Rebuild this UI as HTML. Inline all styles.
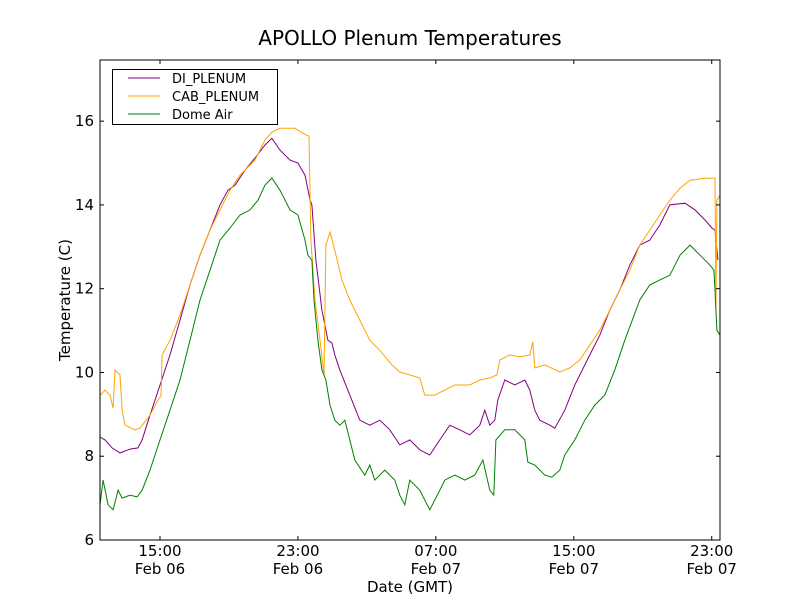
<!DOCTYPE html>
<html><head><meta charset="utf-8"><style>
body{margin:0;background:#fff}
svg{display:block;font-family:"DejaVu Sans","Liberation Sans",sans-serif}
</style></head><body>
<svg id="chart" width="800" height="600" viewBox="0 0 800 600">
<rect x="0" y="0" width="800" height="600" fill="#fff"/>
<text x="410" y="45" font-size="20" text-anchor="middle">APOLLO Plenum Temperatures</text>
<g id="series"></g>
<rect x="100" y="60" width="620" height="480" fill="none" stroke="#000" stroke-width="1"/>
<g id="axes"></g>
<text x="410" y="592" font-size="15" text-anchor="middle">Date (GMT)</text>
<text x="0" y="0" font-size="15" text-anchor="middle" transform="translate(70,300) rotate(-90)">Temperature (C)</text>
<g>
<rect x="112.5" y="69.5" width="165" height="55" fill="#fff" stroke="#000" stroke-width="1"/>
<line x1="128" y1="78" x2="160" y2="78" stroke="purple"/>
<text x="172" y="83" font-size="13">DI_PLENUM</text>
<line x1="128" y1="96" x2="160" y2="96" stroke="orange"/>
<text x="172" y="101" font-size="13">CAB_PLENUM</text>
<line x1="128" y1="114" x2="160" y2="114" stroke="green"/>
<text x="172" y="119" font-size="13">Dome Air</text>
</g>
</svg>
<script>
// time in hours since 00:00 Feb 06 (GMT)
const diTimes = [11.52,11.81,12.22,12.68,13.26,13.72,13.96,14.42,15.00,15.58,16.16,16.74,17.32,17.90,18.48,18.94,19.35,19.93,20.51,21.09,21.49,21.96,22.54,23.00,23.41,23.70,23.81,24.04,24.39,24.74,24.97,25.14,25.43,26.01,26.59,27.17,27.75,28.33,28.91,29.49,30.07,30.65,31.23,31.81,32.39,32.97,33.55,33.84,34.13,34.42,34.59,35.00,35.58,36.16,36.45,36.74,37.03,37.61,37.90,38.48,39.06,39.93,40.51,41.09,41.67,42.25,42.83,43.41,43.99,44.57,45.45,46.03,46.61,47.01,47.19,47.36];
const diValues = [8.46,8.39,8.20,8.08,8.17,8.20,8.39,8.98,9.70,10.42,11.25,12.09,12.80,13.40,14.00,14.35,14.47,14.83,15.12,15.43,15.59,15.31,15.07,15.00,14.71,14.12,14.00,12.68,11.49,10.77,10.70,10.42,10.06,9.46,8.86,8.74,8.86,8.63,8.27,8.39,8.15,8.03,8.39,8.74,8.63,8.51,8.74,9.10,8.74,8.86,9.34,9.82,9.70,9.82,9.58,9.10,8.86,8.74,8.67,9.10,9.70,10.42,10.89,11.49,11.97,12.56,13.04,13.16,13.52,14.00,14.04,13.88,13.64,13.45,13.40,12.68];
const cabTimes = [11.52,11.81,12.10,12.28,12.39,12.68,12.80,12.97,13.55,13.84,14.42,14.88,15.06,15.12,15.58,16.16,16.74,17.32,17.90,18.48,19.06,19.64,20.51,21.09,21.49,21.96,22.83,23.29,23.64,23.75,23.99,24.28,24.51,24.62,24.86,25.14,25.55,26.01,26.59,27.17,27.75,28.45,28.91,30.07,30.36,30.94,31.52,32.10,32.97,33.55,34.13,34.54,34.71,35.29,35.87,36.45,36.62,36.74,37.32,38.19,38.77,39.35,39.93,40.51,41.09,41.67,42.25,42.83,43.41,43.99,44.57,45.16,45.74,46.61,47.19,47.24,47.30,47.48];
const cabValues = [9.45,9.58,9.46,9.15,10.06,9.94,9.10,8.74,8.63,8.67,8.98,9.34,9.44,10.42,10.77,11.37,12.09,12.80,13.40,13.88,14.35,14.71,15.07,15.55,15.74,15.83,15.83,15.71,15.64,13.16,11.73,10.77,9.94,13.04,13.35,12.92,12.21,11.73,11.25,10.77,10.53,10.18,10.01,9.87,9.46,9.46,9.58,9.70,9.70,9.82,9.87,9.94,10.30,10.42,10.37,10.42,10.73,10.11,10.18,10.01,10.11,10.30,10.65,11.01,11.49,11.97,12.44,13.04,13.40,13.76,14.11,14.40,14.59,14.64,14.64,11.49,14.11,14.23];
const domeTimes = [11.52,11.70,11.99,12.28,12.57,12.80,13.26,13.67,13.96,14.42,15.00,15.58,16.16,16.74,17.32,17.90,18.48,19.06,19.64,20.22,20.68,21.09,21.49,21.96,22.54,23.00,23.41,23.58,23.81,23.93,24.16,24.39,24.62,24.86,25.14,25.43,25.72,26.01,26.30,26.88,27.17,27.46,28.04,28.62,28.91,29.20,29.49,30.07,30.36,30.65,31.23,31.52,32.10,32.68,33.26,33.73,34.13,34.36,34.48,35.00,35.58,36.16,36.33,36.74,37.32,37.72,38.19,38.48,39.06,39.64,40.22,40.80,41.38,41.96,42.83,43.41,43.99,44.57,45.16,45.74,46.32,46.90,47.13,47.30,47.48];
const domeValues = [6.84,7.43,6.84,6.72,7.19,7.00,7.07,7.03,7.19,7.67,8.39,9.10,9.82,10.77,11.73,12.44,13.16,13.45,13.76,13.88,14.11,14.47,14.64,14.35,13.88,13.76,13.16,12.80,12.68,11.73,10.77,10.06,9.82,9.22,8.86,8.74,8.86,8.39,7.91,7.55,7.79,7.43,7.67,7.43,7.07,6.84,7.43,7.19,6.95,6.72,7.19,7.43,7.55,7.43,7.55,7.91,7.19,7.07,8.39,8.63,8.63,8.39,7.86,7.79,7.55,7.50,7.67,8.03,8.39,8.86,9.22,9.46,10.06,10.77,11.73,12.09,12.21,12.32,12.80,13.04,12.80,12.56,12.44,11.01,10.89];
const xTickHours = [15,23,31,39,47];
const xTickTimes = ["15:00","23:00","07:00","15:00","23:00"];
const xTickDates = ["Feb 06","Feb 06","Feb 07","Feb 07","Feb 07"];
const yTicks = [6,8,10,12,14,16];

const X0=100,X1=720,Y0=540,Y1=60;
const xMin=11.52,xMax=47.48,yMin=6,yMax=17.46;
const xs=h=>X0+(h-xMin)/(xMax-xMin)*(X1-X0);
const ys=v=>Y0-(v-yMin)/(yMax-yMin)*(Y0-Y1);
const NS="http://www.w3.org/2000/svg";
const sg=document.getElementById('series');
function line(ts,vs,color,name){
  const p=document.createElementNS(NS,'polyline');
  p.setAttribute('points',ts.map((t,i)=>xs(t).toFixed(1)+','+ys(vs[i]).toFixed(1)).join(' '));
  p.setAttribute('fill','none');p.setAttribute('stroke',color);p.setAttribute('stroke-width','1');
  
  
  sg.appendChild(p);
}
line(diTimes,diValues,'purple','di-plenum-line');
line(cabTimes,cabValues,'orange','cab-plenum-line');
line(domeTimes,domeValues,'green','dome-air-line');
const ax=document.getElementById('axes');
function mk(tag,attrs){const e=document.createElementNS(NS,tag);for(const k in attrs)e.setAttribute(k,attrs[k]);ax.appendChild(e);return e;}
xTickHours.forEach((h,i)=>{
  const x=xs(h);
  const t1=mk('line',{x1:x,y1:Y0,x2:x,y2:Y0-4,stroke:'#000'});
  
  
  const t2=mk('line',{x1:x,y1:Y1,x2:x,y2:Y1+4,stroke:'#000'});
  
  
  const a=mk('text',{x:x,y:556,'font-size':15,'text-anchor':'middle'});a.textContent=xTickTimes[i];
  
  
  const b=mk('text',{x:x,y:574,'font-size':15,'text-anchor':'middle'});b.textContent=xTickDates[i];
  
  
});
yTicks.forEach(v=>{
  const y=ys(v);
  const t1=mk('line',{x1:X0,y1:y,x2:X0+4,y2:y,stroke:'#000'});
  
  
  const t2=mk('line',{x1:X1,y1:y,x2:X1-4,y2:y,stroke:'#000'});
  
  
  const l=mk('text',{x:94,y:y+5,'font-size':15,'text-anchor':'end'});l.textContent=v;
  
  
});
</script>
</body></html>
